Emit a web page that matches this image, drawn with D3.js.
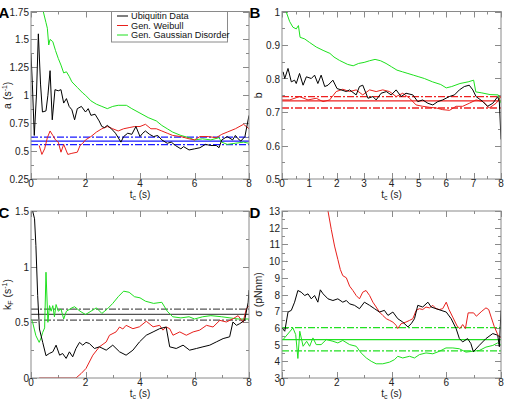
<!DOCTYPE html>
<html><head><meta charset="utf-8">
<script src="https://cdn.jsdelivr.net/npm/d3@7"></script>
<style>
body{margin:0;background:#fff;}
text{font-family:"Liberation Sans",Arial,Helvetica,sans-serif;}
</style></head>
<body><svg id="c" width="505" height="400"></svg>
<script>
// ---------- DATA ----------
const seriesNames = ["Ubiquitin Data", "Gen. Weibull", "Gen. Gaussian Disorder"];

// Panel A: a (s^-1) vs t_c (s)
const aUbiquitin = [[0,1.37],[0.05,1.1],[0.12,0.64],[0.2,1.0],[0.27,1.55],[0.35,1.1],[0.42,0.85],[0.55,0.86],[0.62,1.0],[0.7,1.22],[0.78,0.78],[0.88,1.05],[1.0,1.04],[1.1,1.05],[1.2,0.93],[1.3,0.97],[1.4,0.9],[1.5,0.87],[1.6,0.78],[1.7,0.88],[1.85,0.9],[2.0,0.85],[2.1,0.88],[2.2,0.82],[2.35,0.83],[2.5,0.77],[2.6,0.72],[2.7,0.71],[2.8,0.73],[2.95,0.7],[3.1,0.66],[3.3,0.58],[3.4,0.63],[3.55,0.66],[3.7,0.65],[3.85,0.72],[4.0,0.63],[4.1,0.66],[4.2,0.68],[4.35,0.65],[4.5,0.63],[4.65,0.64],[4.8,0.6],[5.0,0.57],[5.15,0.58],[5.3,0.55],[5.5,0.52],[5.6,0.54],[5.8,0.51],[6.0,0.52],[6.2,0.53],[6.4,0.56],[6.6,0.55],[6.8,0.55],[6.9,0.53],[7.0,0.6],[7.2,0.63],[7.4,0.6],[7.5,0.64],[7.6,0.61],[7.7,0.59],[7.85,0.63],[8.0,0.82]];
const aWeibull = [[0.3,0.55],[0.4,0.47],[0.5,0.52],[0.6,0.62],[0.7,0.68],[0.8,0.64],[0.9,0.6],[1.0,0.58],[1.1,0.49],[1.2,0.56],[1.35,0.47],[1.5,0.48],[1.7,0.49],[1.8,0.55],[1.9,0.57],[2.0,0.6],[2.2,0.63],[2.4,0.67],[2.6,0.7],[2.8,0.72],[3.0,0.7],[3.2,0.68],[3.4,0.7],[3.6,0.71],[3.8,0.72],[4.0,0.72],[4.2,0.74],[4.4,0.7],[4.6,0.7],[4.8,0.68],[5.0,0.66],[5.2,0.64],[5.5,0.63],[5.8,0.61],[6.0,0.6],[6.2,0.63],[6.5,0.63],[6.8,0.62],[7.0,0.65],[7.2,0.67],[7.5,0.7],[7.8,0.74],[8.0,0.7]];
const aGaussian = [[0.4,1.85],[0.45,1.75],[0.55,1.65],[0.6,1.6],[0.65,1.45],[0.7,1.5],[0.8,1.48],[0.9,1.4],[1.0,1.33],[1.1,1.27],[1.2,1.2],[1.3,1.21],[1.4,1.17],[1.5,1.12],[1.7,1.07],[1.9,1.02],[2.0,1.0],[2.2,0.95],[2.4,0.92],[2.6,0.9],[2.8,0.88],[3.0,0.9],[3.2,0.91],[3.5,0.91],[3.7,0.88],[4.0,0.84],[4.3,0.8],[4.6,0.77],[4.8,0.73],[5.0,0.7],[5.2,0.67],[5.5,0.64],[5.8,0.62],[6.0,0.6],[6.3,0.61],[6.6,0.6],[6.9,0.62],[7.0,0.58],[7.2,0.56],[7.5,0.57],[7.8,0.58],[8.0,0.57]];
const aFit = [0.59, 0.558, 0.625];   // value, lower, upper

// Panel B: b vs t_c (s)
const bUbiquitin = [[0.04,0.82],[0.1,0.8],[0.22,0.83],[0.34,0.79],[0.46,0.795],[0.52,0.785],[0.64,0.815],[0.77,0.78],[0.89,0.805],[1.07,0.8],[1.19,0.81],[1.31,0.785],[1.43,0.81],[1.56,0.776],[1.68,0.78],[1.86,0.795],[2.01,0.77],[2.16,0.766],[2.35,0.761],[2.47,0.766],[2.71,0.751],[2.83,0.776],[2.95,0.78],[3.14,0.741],[3.32,0.746],[3.44,0.736],[3.62,0.756],[3.81,0.761],[3.99,0.751],[4.17,0.766],[4.35,0.746],[4.53,0.756],[4.78,0.751],[4.96,0.731],[5.14,0.736],[5.33,0.726],[5.51,0.721],[5.69,0.731],[5.87,0.736],[6.11,0.746],[6.3,0.751],[6.48,0.766],[6.66,0.776],[6.84,0.78],[6.97,0.766],[7.09,0.746],[7.34,0.731],[7.51,0.717],[7.7,0.726],[7.88,0.746],[7.94,0.73],[8.0,0.618]];
const bWeibull = [[0,0.736],[0.28,0.736],[0.64,0.746],[0.95,0.736],[1.25,0.741],[1.5,0.731],[1.74,0.736],[1.98,0.761],[2.22,0.768],[2.47,0.761],[2.71,0.766],[2.95,0.751],[3.2,0.766],[3.44,0.761],[3.68,0.766],[3.93,0.761],[4.17,0.746],[4.41,0.756],[4.66,0.741],[4.9,0.721],[5.14,0.717],[5.39,0.714],[5.63,0.712],[5.87,0.707],[6.12,0.705],[6.36,0.717],[6.6,0.717],[6.84,0.726],[7.09,0.736],[7.34,0.731],[7.57,0.712],[7.82,0.726],[8.0,0.745]];
const bGaussian = [[0.15,1.0],[0.28,0.97],[0.4,0.953],[0.52,0.948],[0.6,0.958],[0.66,0.923],[0.83,0.918],[1.0,0.908],[1.25,0.894],[1.5,0.884],[1.75,0.875],[1.9,0.864],[2.1,0.854],[2.4,0.842],[2.6,0.838],[2.8,0.845],[3.0,0.848],[3.2,0.853],[3.4,0.857],[3.6,0.853],[3.8,0.845],[4.0,0.835],[4.2,0.825],[4.4,0.82],[4.6,0.815],[4.8,0.81],[5.0,0.805],[5.2,0.8],[5.5,0.79],[5.8,0.782],[6.0,0.772],[6.2,0.776],[6.5,0.785],[6.8,0.79],[7.0,0.795],[7.08,0.76],[7.3,0.757],[7.6,0.752],[7.9,0.751],[8.0,0.726]];
const bFit = [0.733, 0.712, 0.746];

// Panel C: k_F (s^-1) vs t_c (s)
const cUbiquitin = [[0,1.6],[0.06,1.5],[0.13,1.43],[0.18,1.19],[0.245,0.74],[0.31,0.44],[0.43,0.32],[0.55,0.2],[0.67,0.22],[0.8,0.235],[0.92,0.295],[1.05,0.205],[1.16,0.22],[1.29,0.176],[1.41,0.235],[1.53,0.19],[1.65,0.265],[1.78,0.32],[1.9,0.295],[2.02,0.32],[2.14,0.31],[2.33,0.265],[2.51,0.28],[2.76,0.25],[3.0,0.295],[3.25,0.235],[3.49,0.205],[3.74,0.25],[3.98,0.324],[4.23,0.384],[4.48,0.414],[4.72,0.443],[4.96,0.458],[5.09,0.28],[5.33,0.265],[5.58,0.295],[5.82,0.25],[6.07,0.265],[6.31,0.28],[6.56,0.295],[6.8,0.324],[7.05,0.354],[7.29,0.37],[7.41,0.503],[7.54,0.473],[7.66,0.488],[7.84,0.518],[7.97,0.68],[8.0,0.79]];
const cWeibull = [[0.3,0],[1.65,0],[1.84,0.04],[2.02,0.086],[2.27,0.205],[2.51,0.28],[2.76,0.324],[2.88,0.384],[3.12,0.414],[3.25,0.458],[3.37,0.44],[3.49,0.473],[3.74,0.443],[3.98,0.46],[4.23,0.51],[4.48,0.46],[4.72,0.473],[4.84,0.43],[4.96,0.458],[5.09,0.443],[5.21,0.384],[5.46,0.414],[5.7,0.384],[5.95,0.414],[6.19,0.43],[6.44,0.473],[6.68,0.458],[6.93,0.518],[7.17,0.503],[7.42,0.533],[7.6,0.56],[7.78,0.5],[7.9,0.62],[8.0,0.65]];
const cGaussian = [[0,0.53],[0.06,0.5],[0.18,0.38],[0.3,0.32],[0.37,0.36],[0.43,0.41],[0.5,0.45],[0.55,0.95],[0.62,0.5],[0.68,0.65],[0.74,0.6],[0.8,0.65],[0.86,0.55],[0.92,0.66],[1.0,0.6],[1.1,0.62],[1.2,0.53],[1.3,0.6],[1.5,0.63],[1.6,0.64],[1.8,0.6],[2.0,0.57],[2.2,0.6],[2.4,0.63],[2.6,0.58],[2.8,0.62],[3.0,0.67],[3.2,0.73],[3.4,0.78],[3.6,0.77],[3.8,0.73],[4.0,0.72],[4.2,0.69],[4.5,0.67],[4.8,0.68],[5.0,0.6],[5.2,0.55],[5.5,0.54],[5.8,0.55],[6.0,0.53],[6.3,0.55],[6.6,0.56],[7.0,0.55],[7.3,0.54],[7.6,0.53],[8.0,0.53]];
const cFit = [0.571, 0.52, 0.619];

// Panel D: sigma (pNnm) vs t_c (s)
const dUbiquitin = [[0,6.0],[0.1,5.8],[0.22,6.95],[0.34,7.05],[0.46,7.54],[0.58,8.24],[0.7,8.14],[0.83,7.94],[0.95,8.04],[1.07,7.74],[1.19,7.94],[1.31,7.54],[1.4,8.28],[1.5,8.04],[1.68,7.74],[1.86,7.64],[2.04,7.74],[2.22,7.54],[2.35,7.64],[2.47,7.44],[2.65,7.35],[2.83,7.15],[3.01,7.54],[3.2,7.35],[3.38,7.15],[3.56,6.95],[3.74,7.05],[3.87,6.75],[4.05,6.95],[4.23,6.55],[4.41,6.35],[4.6,6.06],[4.72,6.25],[4.84,6.55],[4.96,7.35],[5.14,7.25],[5.33,7.54],[5.45,7.25],[5.63,7.15],[5.81,7.05],[6.0,6.95],[6.18,6.55],[6.36,5.96],[6.48,5.36],[6.6,5.16],[6.78,5.36],[6.9,5.06],[6.99,4.57],[7.21,4.96],[7.45,5.36],[7.7,5.66],[7.88,5.56],[7.94,4.87],[8.0,7.05]];
const dWeibull = [[1.68,13],[1.8,11.9],[1.92,10.9],[2.04,10.1],[2.13,9.5],[2.22,9.13],[2.35,9.0],[2.47,8.5],[2.59,8.24],[2.71,7.94],[2.83,7.74],[2.95,8.14],[3.07,8.24],[3.2,7.94],[3.32,7.54],[3.44,7.25],[3.56,6.95],[3.68,6.75],[3.81,6.55],[3.93,6.45],[4.05,6.35],[4.17,6.15],[4.23,5.96],[4.35,6.25],[4.53,6.35],[4.66,6.45],[4.78,6.55],[4.9,7.05],[5.02,7.15],[5.14,7.1],[5.26,7.25],[5.39,7.2],[5.51,7.35],[5.63,7.15],[5.75,7.1],[5.87,7.15],[6.0,7.54],[6.1,7.1],[6.25,6.6],[6.4,6.1],[6.5,5.96],[6.6,6.2],[6.7,5.96],[6.8,6.9],[7.0,6.9],[7.1,6.7],[7.3,7.0],[7.45,7.2],[7.55,7.1],[7.65,6.6],[7.75,6.1],[7.88,5.6],[8.0,5.4]];
const dGaussian = [[0.04,5.3],[0.4,6.0],[0.5,5.6],[0.58,4.17],[0.65,5.8],[0.77,4.9],[0.9,5.2],[1.01,4.9],[1.13,5.4],[1.25,5.0],[1.43,5.0],[1.62,5.3],[1.86,5.2],[2.04,5.1],[2.22,5.25],[2.47,5.0],[2.71,4.9],[2.89,4.5],[3.08,4.2],[3.26,4.0],[3.44,3.85],[3.68,3.85],[3.93,3.95],[4.11,4.1],[4.23,4.3],[4.41,4.2],[4.66,4.3],[4.84,4.2],[5.02,4.4],[5.26,4.5],[5.51,4.45],[5.75,4.6],[5.99,4.8],[6.24,4.8],[6.48,4.75],[6.72,4.55],[6.97,4.6],[7.21,4.65],[7.45,4.85],[7.7,4.95],[7.88,5.1],[8.0,5.0]];
const dFit = [5.3, 4.63, 6.02];

const xTicksMajorA = [0,2,4,6,8], xTicksMajorB = [0,1,2,3,4,5,6,7,8];
const yTicksA = [0.25,0.5,0.75,1,1.25,1.5,1.75];
const yTicksB = [0.5,0.6,0.7,0.8,0.9,1];
const yTicksC = [0,0.5,1,1.5];
const yTicksD = [3,4,5,6,7,8,9,10,11,12,13];

// ---------- DRAW ----------
const colors = {ubi:"#000000", wei:"#e8201c", gau:"#1ee01e"};
const svg = d3.select("#c");

const panels = [
 {letter:"A", box:[31,249,11.5,179], xd:[0,8], yd:[0.25,1.75], xt:xTicksMajorA, xm:1, yt:yTicksA, ym:0.125,
  ylabel:["a (s","-1",")"], series:[aUbiquitin,aWeibull,aGaussian], fit:aFit, fitColor:"#1a1aff"},
 {letter:"B", box:[282,501,11.5,179], xd:[0,8], yd:[0.5,1], xt:xTicksMajorB, xm:0.5, yt:yTicksB, ym:0.05,
  ylabel:["b"], series:[bUbiquitin,bWeibull,bGaussian], fit:bFit, fitColor:"#ee2020"},
 {letter:"C", box:[31,249,211,378], xd:[0,8], yd:[0,1.5], xt:xTicksMajorA, xm:1, yt:yTicksC, ym:0.25,
  ylabel:["k","F"," (s","-1",")"], series:[cUbiquitin,cWeibull,cGaussian], fit:cFit, fitColor:"#555555"},
 {letter:"D", box:[282,501,211,378], xd:[0,8], yd:[3,13], xt:xTicksMajorA, xm:1, yt:yTicksD, ym:0.5,
  ylabel:["σ (pNnm)"], series:[dUbiquitin,dWeibull,dGaussian], fit:dFit, fitColor:"#22e022"}
];

const fmt = v => String(+v.toFixed(3));
const frameColor = "#8a8a8a";

panels.forEach((p,pi) => {
  const [x0,x1,y0,y1] = p.box;
  const x = d3.scaleLinear().domain(p.xd).range([x0,x1]);
  const y = d3.scaleLinear().domain(p.yd).range([y1,y0]);
  const g = svg.append("g");
  const cid = "clip"+pi;
  svg.append("clipPath").attr("id",cid).append("rect")
     .attr("x",x0).attr("y",y0).attr("width",x1-x0).attr("height",y1-y0);

  // minor & major ticks (inward, mirrored)
  const xMinor = d3.range(p.xd[0], p.xd[1]+1e-9, p.xm).filter(v => !p.xt.some(t=>Math.abs(t-v)<1e-9));
  const yMinor = d3.range(p.yd[0], p.yd[1]+1e-9, p.ym).filter(v => !p.yt.some(t=>Math.abs(t-v)<1e-9));
  const tk = g.append("g").attr("stroke",frameColor).attr("stroke-width",1);
  const addX = (vals,len) => vals.forEach(v => {
    const px = Math.round(x(v))+0.5;
    tk.append("line").attr("x1",px).attr("x2",px).attr("y1",y1).attr("y2",y1-len);
    tk.append("line").attr("x1",px).attr("x2",px).attr("y1",y0).attr("y2",y0+len);
  });
  const addY = (vals,len) => vals.forEach(v => {
    const py = Math.round(y(v))+0.5;
    tk.append("line").attr("y1",py).attr("y2",py).attr("x1",x0).attr("x2",x0+len);
    tk.append("line").attr("y1",py).attr("y2",py).attr("x1",x1).attr("x2",x1-len);
  });
  addX(p.xt,6); addX(xMinor,3); addY(p.yt,6); addY(yMinor,3);

  // fit lines (solid = value, dash-dot = bounds)
  const fl = g.append("g").attr("clip-path",`url(#${cid})`);
  p.fit.forEach((v,i) => {
    fl.append("path")
      .attr("d", d3.line()([[x(p.xd[0]), y(v)], [x(p.xd[1]), y(v)]]))
      .attr("fill","none")
      .attr("stroke",p.fitColor).attr("stroke-width",1.3)
      .attr("stroke-dasharray", i===0 ? null : "7,2,2,2");
  });

  // series
  const line = d3.line().x(d=>x(d[0])).y(d=>y(d[1]));
  const cols = [colors.ubi, colors.wei, colors.gau];
  const order = [2,1,0];
  order.forEach(si => {
    g.append("path").datum(p.series[si]).attr("d",line).attr("fill","none")
     .attr("stroke",cols[si]).attr("stroke-width",1).attr("clip-path",`url(#${cid})`);
  });

  // frame
  g.append("rect").attr("x",x0).attr("y",y0).attr("width",x1-x0).attr("height",y1-y0)
   .attr("fill","none").attr("stroke",frameColor).attr("stroke-width",1);

  // tick labels
  p.xt.forEach(v => g.append("text").attr("x",x(v)).attr("y",y1+8).attr("text-anchor","middle")
     .attr("font-size",10).attr("fill","#222").text(fmt(v)));
  p.yt.forEach(v => g.append("text").attr("x",x0-2).attr("y",y(v)+4).attr("text-anchor","end")
     .attr("font-size",10).attr("fill","#222").text(fmt(v)));

  // x label
  const xl = g.append("text").attr("x",(x0+x1)/2).attr("y",y1+19).attr("text-anchor","middle")
     .attr("font-size",10).attr("fill","#222");
  xl.append("tspan").text("t");
  xl.append("tspan").attr("font-size",7).attr("dy",2).text("c");
  xl.append("tspan").attr("dy",-2).text(" (s)");

  // y label
  const yl = g.append("text").attr("transform",`translate(${x0-20},${(y0+y1)/2}) rotate(-90)`)
     .attr("text-anchor","middle").attr("font-size",10.5).attr("fill","#222");
  if (p.ylabel.length===3) {
    yl.append("tspan").text(p.ylabel[0]);
    yl.append("tspan").attr("font-size",7).attr("dy",-4).text(p.ylabel[1]);
    yl.append("tspan").attr("dy",4).text(p.ylabel[2]);
  } else if (p.ylabel.length===5) {
    yl.append("tspan").text(p.ylabel[0]);
    yl.append("tspan").attr("font-size",7).attr("dy",2).text(p.ylabel[1]);
    yl.append("tspan").attr("dy",-2).text(p.ylabel[2]);
    yl.append("tspan").attr("font-size",7).attr("dy",-4).text(p.ylabel[3]);
    yl.append("tspan").attr("dy",4).text(p.ylabel[4]);
  } else {
    yl.text(p.ylabel[0]);
  }

  // panel letter
  g.append("text").attr("x",x0-32.5).attr("y",y0+6.5).attr("font-size",15).attr("font-weight","bold")
   .attr("fill","#000").text(p.letter);
});

// legend in panel A
const lg = svg.append("g");
lg.append("rect").attr("x",111.5).attr("y",11.5).attr("width",116).attr("height",30.5)
  .attr("fill","#fff").attr("stroke",frameColor);
[colors.ubi, colors.wei, colors.gau].forEach((c,i) => {
  const yy = 16 + i*9.5;
  lg.append("line").attr("x1",117).attr("x2",128).attr("y1",yy).attr("y2",yy).attr("stroke",c).attr("stroke-width",1);
  lg.append("text").attr("x",131).attr("y",yy+3.3).attr("font-size",9.2).attr("fill","#111").text(seriesNames[i]);
});
</script></body></html>
